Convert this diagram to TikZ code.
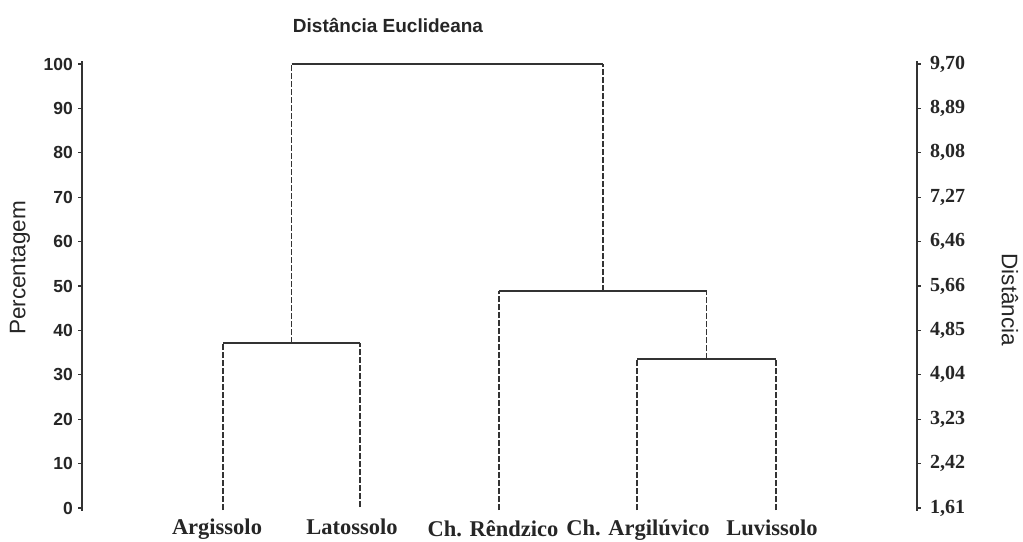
\documentclass[tikz,border=0pt]{standalone}
\usepackage{fontspec}
\setmainfont{Liberation Serif}
\newfontfamily\arialf{Liberation Sans}
\begin{document}
\begin{tikzpicture}[x=1pt,y=-1pt,
  ax/.style={draw=black!80, line width=1.6pt},
  hz/.style={draw=black!80, line width=1.6pt},
  vt/.style={draw=black!80, line width=1.5pt, dash pattern=on 6pt off 2pt},
  llab/.style={anchor=east, inner sep=0pt, font=\arialf\bfseries\fontsize{17.5}{17.5}\selectfont, text=black!85},
  rlab/.style={anchor=west, inner sep=0pt, font=\bfseries\fontsize{20}{20}\selectfont, text=black!85},
  leaf/.style={anchor=base, inner sep=0pt, font=\bfseries\fontsize{22.5}{22.5}\selectfont, text=black!85},
  ttl/.style={inner sep=0pt, font=\arialf\bfseries\fontsize{19}{19}\selectfont, text=black!85},
  axt/.style={inner sep=0pt, font=\arialf\fontsize{22.5}{22.5}\selectfont, text=black!85}]
\useasboundingbox (0,0) rectangle (1023,541);
\fill[white] (0,0) rectangle (1023,541);
% title and axis titles
\node[ttl] (title) at (388,25) {Distância Euclideana};
\node[axt, rotate=90] (ylab) at (20,268) {Percentagem};
\node[axt, rotate=-90] (ylab2) at (1010,300) {Distância};
% axes
\coordinate (lt) at (82,61);
\coordinate (lb) at (82,511);
\coordinate (rt) at (917,61);
\coordinate (rb) at (917,511);
\draw[ax] (lt) -- (lb);
\draw[ax] (rt) -- (rb);
\foreach \v [count=\i from 0] in {0,10,20,30,40,50,60,70,80,90,100} {
  \pgfmathsetmacro{\yy}{508-44.4*\i}
  \draw[ax, line width=1.2pt] (78,\yy) -- (82,\yy);
  \node[llab] (l\i) at (73,\yy) {\v};
}
\foreach \v [count=\i from 0] in {{1,61},{2,42},{3,23},{4,04},{4,85},{5,66},{6,46},{7,27},{8,08},{8,89},{9,70}} {
  \pgfmathsetmacro{\yy}{508-44.4*\i}
  \draw[ax, line width=1.2pt] (917,\yy) -- (921,\yy);
  \node[rlab] (r\i) at (930,\yy) {\v};
}
% leaves
\coordinate (a) at (223,510);
\coordinate (b) at (360,507);
\coordinate (c) at (499,510);
\coordinate (d) at (637,510);
\coordinate (e) at (776,510);
\node[leaf] (na) at (217,534) {Argissolo};
\node[leaf] (nb) at (352,534) {Latossolo};
\node[leaf] (nc) at (493,536) {Ch. Rêndzico};
\node[leaf] (nd) at (638,535) {Ch. Argilúvico};
\node[leaf] (ne) at (772,535) {Luvissolo};
% merge points
\coordinate (ab1) at (223,343);
\coordinate (ab2) at (360,343);
\coordinate (abm) at (291.5,343);
\coordinate (de1) at (637,359);
\coordinate (de2) at (776,359);
\coordinate (dem) at (706.5,359);
\coordinate (cde1) at (499,291);
\coordinate (cde2) at (706.5,291);
\coordinate (cdem) at (603,291);
\coordinate (top1) at (291.5,64);
\coordinate (top2) at (603,64);
% dendrogram
\draw[vt] (a) -- (ab1);
\draw[vt] (b) -- (ab2);
\draw[hz] (ab1) -- (ab2);
\draw[vt] (d) -- (de1);
\draw[vt] (e) -- (de2);
\draw[hz] (de1) -- (de2);
\draw[vt] (c) -- (cde1);
\draw[vt] (dem) -- (cde2);
\draw[hz] (cde1) -- (cde2);
\draw[vt] (abm) -- (top1);
\draw[vt] (cdem) -- (top2);
\draw[hz] (top1) -- (top2);
\end{tikzpicture}
\end{document}
